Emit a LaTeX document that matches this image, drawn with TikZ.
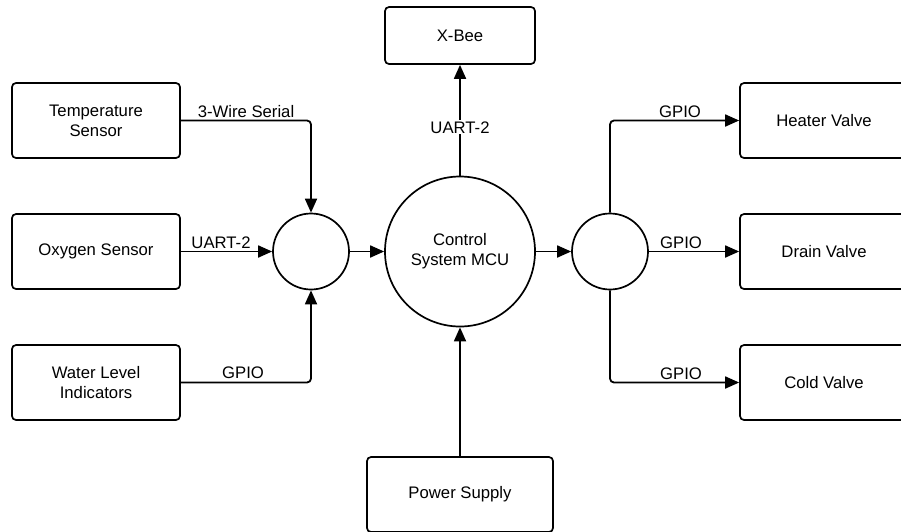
\documentclass[tikz,border=0pt]{standalone}
\usepackage{fontspec}
\setmainfont{Liberation Sans}
\usetikzlibrary{arrows.meta}
\begin{document}
\begin{tikzpicture}[x=1pt,y=-1pt,
 box/.style={draw, rounded corners=4pt, line width=1.7pt, minimum width=168pt, minimum height=75pt, align=center, inner sep=0pt, font=\fontsize{16.7}{20}\selectfont},
 junc/.style={draw, circle, line width=1.7pt, minimum size=76pt, inner sep=0pt},
 conn/.style={line width=1.8pt, -{Triangle[length=14pt,width=12pt]}, rounded corners=4pt},
 lbl/.style={font=\fontsize{16.7}{20}\selectfont, inner sep=1pt, anchor=base}]
\useasboundingbox (0,0) rectangle (901,531);
\node[box] (temp) at (96,120.5) {Temperature\\Sensor};
\node[box] (oxy) at (96,251.5) {Oxygen Sensor};
\node[box] (water) at (96,382.5) {Water Level\\Indicators};
\node[box] (heater) at (824,120.5) {Heater Valve};
\node[box] (drain) at (824,251.5) {Drain Valve};
\node[box] (cold) at (824,382.5) {Cold Valve};
\node[box, minimum width=150pt, minimum height=57pt] (xbee) at (460,35.5) {X-Bee};
\node[box, minimum width=186pt] (power) at (460,494.5) {Power Supply};
\node[junc] (lc) at (311,251.5) {};
\node[junc] (rc) at (610,251.5) {};
\node[junc, minimum size=150pt, align=center, font=\fontsize{16.7}{20}\selectfont] (mcu) at (460,251.5) {Control\\System MCU};
\draw[conn] (temp.east) -| (lc.north);
\draw[conn] (oxy) -- (lc);
\draw[conn] (water.east) -| (lc.south);
\draw[conn] (lc) -- (mcu);
\draw[conn] (mcu) -- (rc);
\draw[conn] (rc.north) |- (heater.west);
\draw[conn] (rc) -- (drain);
\draw[conn] (rc.south) |- (cold.west);
\draw[conn] (mcu) -- (xbee);
\draw[conn] (power) -- (mcu);
\node[lbl] (l1) at (246,117) {3-Wire Serial};
\node[lbl] (l2) at (221,248) {UART-2};
\node[lbl] (l3) at (243,378) {GPIO};
\node[lbl, fill=white] (l4) at (460,133) {UART-2};
\node[lbl] (l5) at (680,117) {GPIO};
\node[lbl] (l6) at (681,248) {GPIO};
\node[lbl] (l7) at (681,379) {GPIO};
\end{tikzpicture}
\end{document}
